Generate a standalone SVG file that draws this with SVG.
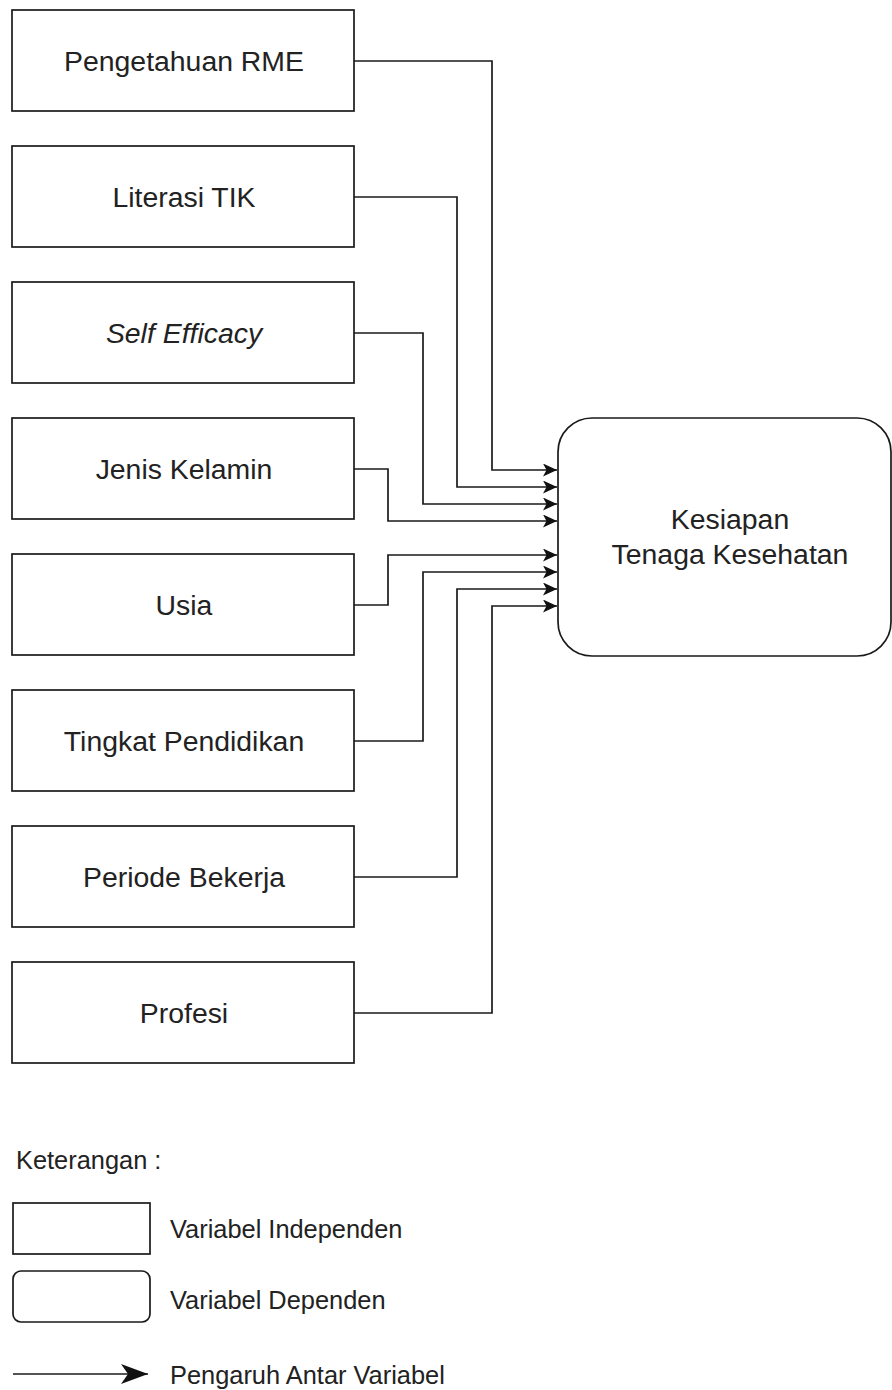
<svg xmlns="http://www.w3.org/2000/svg" width="892" height="1390" viewBox="0 0 892 1390">
<style>
.box{fill:#fff;stroke:#1a1a1a;stroke-width:1.7}
.lbl{font-family:"Liberation Sans",Arial,sans-serif;font-size:28.4px;fill:#222;text-anchor:middle}
.leg{font-family:"Liberation Sans",Arial,sans-serif;font-size:25.4px;fill:#222}
.con{fill:none;stroke:#1a1a1a;stroke-width:1.7}
</style>
<defs>
<marker id="arr" markerWidth="15" markerHeight="13" refX="14" refY="6.5" orient="auto" markerUnits="userSpaceOnUse">
<path d="M0,0 L14,6.5 L0,13 L3.5,6.5 Z" fill="#111"/>
</marker>
<marker id="arrL" markerWidth="28" markerHeight="20" refX="27" refY="10" orient="auto" markerUnits="userSpaceOnUse">
<path d="M0,0 L27,10 L0,20 L7,10 Z" fill="#111"/>
</marker>
</defs>
<rect width="892" height="1390" fill="#fff"/>
<g id="n1"><rect class="box" x="12" y="10" width="342" height="101"/><text class="lbl" x="184" y="71">Pengetahuan RME</text></g>
<g id="n2"><rect class="box" x="12" y="146" width="342" height="101"/><text class="lbl" x="184" y="207">Literasi TIK</text></g>
<g id="n3"><rect class="box" x="12" y="282" width="342" height="101"/><text class="lbl" x="184" y="343" font-style="italic">Self Efficacy</text></g>
<g id="n4"><rect class="box" x="12" y="418" width="342" height="101"/><text class="lbl" x="184" y="479">Jenis Kelamin</text></g>
<g id="n5"><rect class="box" x="12" y="554" width="342" height="101"/><text class="lbl" x="184" y="615">Usia</text></g>
<g id="n6"><rect class="box" x="12" y="690" width="342" height="101"/><text class="lbl" x="184" y="751">Tingkat Pendidikan</text></g>
<g id="n7"><rect class="box" x="12" y="826" width="342" height="101"/><text class="lbl" x="184" y="887">Periode Bekerja</text></g>
<g id="n8"><rect class="box" x="12" y="962" width="342" height="101"/><text class="lbl" x="184" y="1023">Profesi</text></g>
<g id="dep"><rect class="box" x="558" y="418" width="333" height="238" rx="34" ry="34"/><text class="lbl" x="730" y="529">Kesiapan</text><text class="lbl" x="730" y="564">Tenaga Kesehatan</text></g>
<g id="connectors">
<path class="con" marker-end="url(#arr)" d="M354,61 H492 V470 H557"/>
<path class="con" marker-end="url(#arr)" d="M354,197 H457 V487 H557"/>
<path class="con" marker-end="url(#arr)" d="M354,333 H423 V504 H557"/>
<path class="con" marker-end="url(#arr)" d="M354,469 H388 V521 H557"/>
<path class="con" marker-end="url(#arr)" d="M354,605 H388 V555 H557"/>
<path class="con" marker-end="url(#arr)" d="M354,741 H423 V572 H557"/>
<path class="con" marker-end="url(#arr)" d="M354,877 H457 V589 H557"/>
<path class="con" marker-end="url(#arr)" d="M354,1013 H492 V606 H557"/>
</g>
<g id="legend">
<text class="leg" x="16" y="1169">Keterangan :</text>
<rect class="box" x="13" y="1203" width="137" height="51"/>
<text class="leg" x="170" y="1238">Variabel Independen</text>
<rect class="box" x="13" y="1271" width="137" height="51" rx="8" ry="8"/>
<text class="leg" x="170" y="1309">Variabel Dependen</text>
<path class="con" marker-end="url(#arrL)" d="M13,1374 H148"/>
<text class="leg" x="170" y="1384">Pengaruh Antar Variabel</text>
</g>
</svg>
